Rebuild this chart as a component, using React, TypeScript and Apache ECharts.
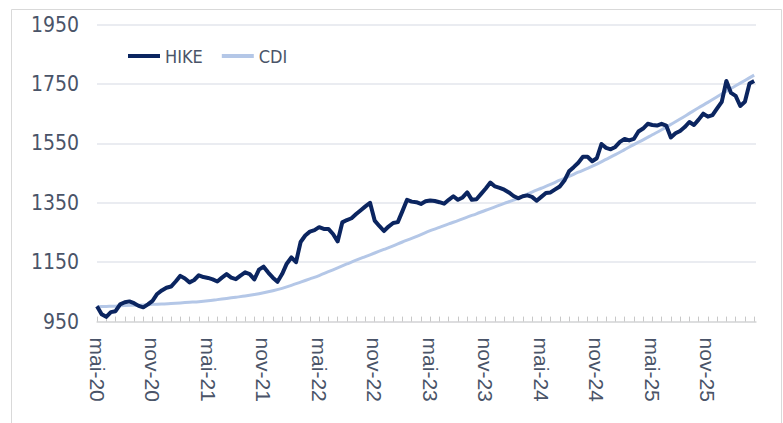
import React, { useEffect, useRef } from "react";
import * as echarts from "echarts";

// Tick labels every 6 months (x = months since May 2020)
const X_LABELS = ["mai-20", "nov-20", "mai-21", "nov-21", "mai-22", "nov-22", "mai-23", "nov-23", "mai-24", "nov-24", "mai-25", "nov-25"];

// HIKE, one value every half month starting May 2020
const HIKE = [
  1002, 975, 966, 982, 985, 1008, 1015, 1018, 1012, 1003, 998, 1008,
  1020, 1043, 1055, 1064, 1068, 1085, 1104, 1095, 1082, 1090, 1106, 1100,
  1097, 1092, 1085, 1098, 1110, 1098, 1093, 1105, 1116, 1110, 1092, 1125,
  1135, 1115, 1098, 1084, 1110, 1145, 1166, 1150, 1218, 1240, 1253, 1258,
  1268, 1262, 1262, 1245, 1220, 1284, 1292, 1298, 1312, 1325, 1338, 1350,
  1290, 1272, 1255, 1270, 1282, 1285, 1322, 1360, 1354, 1352, 1346, 1355,
  1358, 1356, 1352, 1347, 1360, 1372, 1360, 1368, 1385, 1360, 1362, 1380,
  1398, 1418, 1405, 1400, 1394, 1385, 1373, 1365, 1372, 1375, 1370, 1357,
  1370, 1383, 1385, 1395, 1405, 1425, 1456, 1470, 1485, 1505, 1505, 1490,
  1500, 1548, 1535, 1530, 1538, 1555, 1565, 1560, 1565, 1590, 1600, 1616,
  1612, 1610, 1616, 1610, 1570, 1584, 1592, 1605, 1622, 1612, 1630, 1650,
  1640, 1645, 1668, 1690, 1760, 1720, 1710, 1676, 1690, 1752, 1760
];

// CDI, one value per month starting May 2020
const CDI = [
  1000, 1001, 1002, 1004, 1005, 1006, 1008, 1009, 1011, 1013, 1015, 1017,
  1020, 1024, 1028, 1032, 1036, 1041, 1047, 1054, 1062, 1072, 1083, 1094,
  1105, 1118, 1131, 1144, 1157, 1169, 1181, 1193, 1205, 1218, 1230, 1243,
  1256, 1267, 1279, 1290, 1302, 1313, 1325, 1336, 1348, 1359, 1372, 1386,
  1399, 1412, 1426, 1439, 1453, 1466, 1480, 1496, 1512, 1529, 1546, 1562,
  1579, 1596, 1614, 1632, 1651, 1670, 1688, 1707, 1726, 1744, 1762, 1780
];

const Y_MIN = 950;
const Y_MAX = 1950;
const Y_STEP = 200;

const NARROW = "'Liberation Sans Narrow', 'DejaVu Sans Condensed', 'Liberation Sans', sans-serif";
const TEXT = "#4A5468";

export default function App() {
  const ref = useRef<HTMLDivElement>(null);
  useEffect(() => {
    if (!ref.current) return;
    const chart = echarts.init(ref.current, null, { renderer: "svg" });
    const hikeData = HIKE.map((v, i) => [i * 0.5, v]);
    const cdiData = CDI.map((v, i) => [i, v]);
    chart.setOption({
      animation: false,
      backgroundColor: "#ffffff",
      graphic: [
        {
          type: "rect",
          left: 9,
          top: 7,
          shape: { width: 770, height: 430 },
          style: { fill: "none", stroke: "#D9D9D9", lineWidth: 1 },
          silent: true,
        },
      ],
      legend: {
        left: 123,
        top: 42,
        itemWidth: 32,
        itemHeight: 4,
        itemGap: 19,
        icon: "rect",
        textStyle: { fontFamily: NARROW, fontSize: 18, color: TEXT },
        data: ["HIKE", "CDI"],
      },
      grid: { left: 97, right: 27, top: 24.6, bottom: 101.4, containLabel: false },
      xAxis: {
        type: "value",
        min: 0,
        max: 71.2,
        interval: 1,
        splitLine: { show: false },
        axisLine: { show: true, lineStyle: { color: "#D9D9D9", width: 1.5 } },
        axisTick: { show: true, inside: true, length: 5, lineStyle: { color: "#C8C8C8", width: 1 } },
        axisLabel: {
          rotate: -90,
          margin: 16,
          fontFamily: "'Liberation Sans', Arial, sans-serif",
          fontSize: 21,
          color: TEXT,
          showMaxLabel: false,
          formatter: (v: number) => {
            const r = Math.round(v);
            if (Math.abs(v - r) > 1e-6 || r % 6 !== 0) return "";
            return X_LABELS[r / 6] ?? "";
          },
        },
      },
      yAxis: {
        type: "value",
        min: Y_MIN,
        max: Y_MAX,
        interval: Y_STEP,
        axisLine: { show: false },
        axisTick: { show: false },
        splitLine: { lineStyle: { color: "#E3E6EC", width: 1.5 } },
        axisLabel: {
          margin: 18,
          fontFamily: NARROW,
          fontSize: 21,
          color: TEXT,
          formatter: (v: number) => String(v),
        },
      },
      series: [
        {
          name: "HIKE",
          type: "line",
          data: hikeData,
          showSymbol: false,
          symbol: "none",
          lineStyle: { color: "#0B2560", width: 4, join: "round" },
          itemStyle: { color: "#0B2560" },
          z: 3,
        },
        {
          name: "CDI",
          type: "line",
          data: cdiData,
          showSymbol: false,
          symbol: "none",
          smooth: 0.3,
          lineStyle: { color: "#B4C7E7", width: 3 },
          itemStyle: { color: "#B4C7E7" },
          z: 2,
        },
      ],
    });
    return () => chart.dispose();
  }, []);
  return (
    <div
      ref={ref}
      style={{ position: "fixed", left: 0, top: 0, width: 783, height: 423, background: "#fff" }}
    />
  );
}
